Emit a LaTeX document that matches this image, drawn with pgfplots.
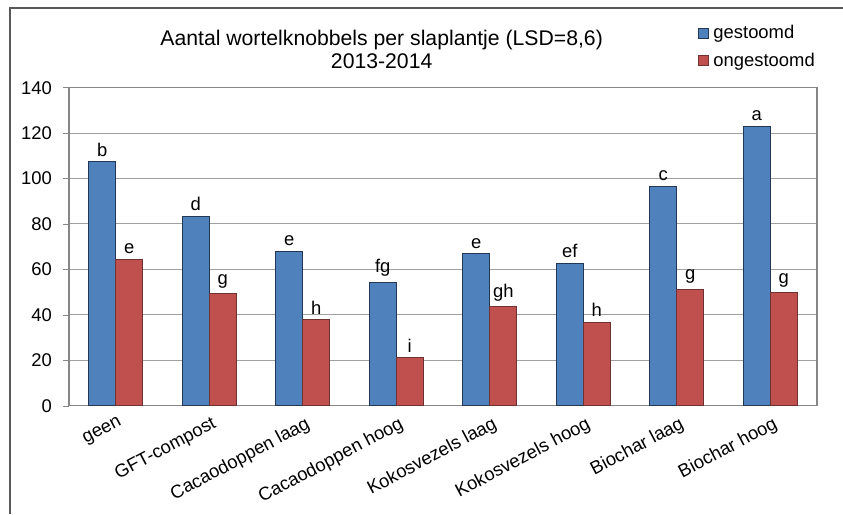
\documentclass[border=0pt]{standalone}
\usepackage{fontspec}
\setmainfont{Liberation Sans}
\usepackage{pgfplots}
\pgfplotsset{compat=1.18}
\usetikzlibrary{calc}

\definecolor{barblue}{RGB}{79,129,189}
\definecolor{barred}{RGB}{192,80,77}
\definecolor{edgeblue}{RGB}{35,55,85}
\definecolor{edgered}{RGB}{110,50,50}
\definecolor{axisgray}{RGB}{134,134,134}
\definecolor{gridgray}{RGB}{160,160,160}

\begin{document}
\begin{tikzpicture}
\begin{axis}[
    name=ax,
    scale only axis,
    width=374pt, height=159pt,
    ybar=0pt, bar width=13.5pt,
    xmin=-0.5, xmax=7.5,
    ymin=0, ymax=140,
    ytick={0,20,...,140},
    xtick={0,...,7},
    xticklabels={geen, GFT-compost, Cacaodoppen laag, Cacaodoppen hoog,
                 Kokosvezels laag, Kokosvezels hoog, Biochar laag, Biochar hoog},
    x tick label style={rotate=28, anchor=north east, font=\fontsize{9.2}{11}\selectfont,
                        inner sep=1pt, yshift=-1pt, xshift=1pt},
    y tick label style={font=\fontsize{9.2}{11}\selectfont, xshift=-2pt},
    /pgf/number format/assume math mode=true,
    major x tick style={draw=none},
    extra x ticks={-0.5,0.5,...,7.5},
    extra x tick labels={},
    extra x tick style={major tick length=3pt, tick style={axisgray}, tick align=outside,
                        xticklabel=\empty},
    tick align=outside, major tick length=3pt,
    tick style={axisgray},
    ymajorgrids, grid style={gridgray, line width=0.5pt},
    axis line style={axisgray, line width=0.6pt},
    xtick pos=bottom, ytick pos=left,
    point meta=explicit symbolic,
    nodes near coords,
    every node near coord/.append style={font=\fontsize{9.2}{11}\selectfont, inner sep=2.5pt},
    title={Aantal wortelknobbels per slaplantje (LSD=8,6)\\2013-2014},
    title style={at={(axis description cs:0.418,1.146)}, anchor=north, align=center,
                 font=\fontsize{10.6}{11.5}\selectfont, inner sep=0pt},
    legend style={at={(axis description cs:0.841,1.203)}, anchor=north west, draw=none,
                  fill=none, font=\fontsize{9.2}{11}\selectfont, row sep=3.5pt,
                  inner sep=0pt, nodes={inner xsep=2pt, inner ysep=1pt}},
    legend cell align=left,
    legend image code/.code={\draw[#1, line width=0.5pt] (0pt,-2.2pt) rectangle (5pt,2.8pt);},
    clip=false,
]
\addplot[fill=barblue, draw=edgeblue, line width=0.5pt] coordinates {
    (0,107.3) [b] (1,83.4) [d] (2,68) [e] (3,54.4) [fg]
    (4,66.9) [e] (5,62.6) [ef] (6,96.6) [c] (7,123.1) [a]
};
\addlegendentry{gestoomd}
\addplot[fill=barred, draw=edgered, line width=0.5pt] coordinates {
    (0,64.4) [e] (1,49.3) [g] (2,37.9) [h] (3,21.1) [i]
    (4,43.5) [gh] (5,36.7) [h] (6,51.3) [g] (7,49.7) [g]
};
\addlegendentry{ongestoomd}
\end{axis}
\useasboundingbox ($(ax.south west)+(-34.5pt,-54.15pt)$) rectangle ($(ax.north east)+(13pt,43.85pt)$);
\draw[black!65, line width=0.6pt]
    ($(ax.south west)+(-29.5pt,-54.15pt)$) -- ($(ax.north west)+(-29.5pt,39.85pt)$)
    -- ($(ax.north east)+(13pt,39.85pt)$);
\end{tikzpicture}
\end{document}
